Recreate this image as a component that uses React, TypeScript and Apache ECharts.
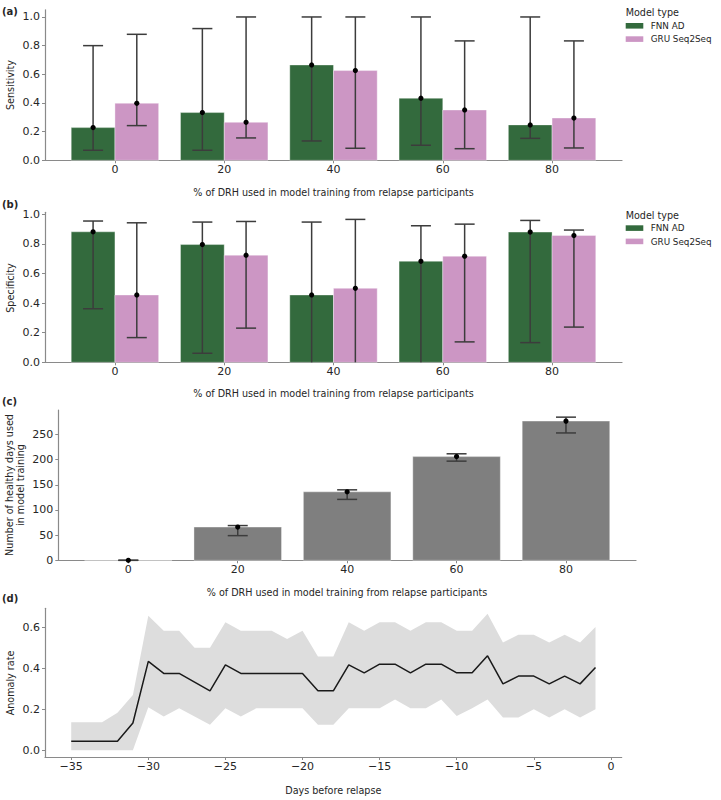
import React, { useEffect, useRef } from "react";
import * as echarts from "echarts";

// ---------- data ----------
const categories = ["0", "20", "40", "60", "80"];
const catIdx = [0, 1, 2, 3, 4];

// (a) Sensitivity
const sensFNN = [0.228, 0.333, 0.665, 0.433, 0.247];
const sensFNNLow = [0.07, 0.07, 0.135, 0.105, 0.153];
const sensFNNHigh = [0.8, 0.919, 1.0, 1.0, 1.0];
const sensGRU = [0.398, 0.265, 0.626, 0.351, 0.295];
const sensGRULow = [0.242, 0.156, 0.084, 0.081, 0.086];
const sensGRUHigh = [0.879, 1.0, 1.0, 0.833, 0.833];

// (b) Specificity
const specFNN = [0.882, 0.796, 0.455, 0.683, 0.88];
const specFNNLow = [0.362, 0.061, 0, 0, 0.133];
const specFNNHigh = [0.955, 0.948, 0.948, 0.923, 0.959];
const specGRU = [0.455, 0.724, 0.5, 0.717, 0.857];
const specGRULow = [0.167, 0.231, 0, 0.138, 0.238];
const specGRUHigh = [0.943, 0.952, 0.966, 0.934, 0.894];

// (c) Number of healthy days
const daysUsed = [0, 66, 136, 206, 276.5];
const daysUsedLow = [0, 49, 121, 197, 253];
const daysUsedHigh = [0, 69, 140, 211.6, 284.4];

// (d) Anomaly rate
const days = [-35, -34, -33, -32, -31, -30, -29, -28, -27, -26, -25, -24, -23, -22, -21, -20, -19, -18, -17, -16, -15, -14, -13, -12, -11, -10, -9, -8, -7, -6, -5, -4, -3, -2, -1];
const anomalyRate = [0.044, 0.044, 0.044, 0.044, 0.133, 0.434, 0.375, 0.375, 0.333, 0.29, 0.417, 0.375, 0.375, 0.375, 0.375, 0.375, 0.29, 0.29, 0.417, 0.378, 0.42, 0.42, 0.378, 0.42, 0.42, 0.378, 0.378, 0.461, 0.324, 0.362, 0.362, 0.324, 0.362, 0.324, 0.404];
const anomalyUpper = [0.137, 0.137, 0.137, 0.183, 0.27, 0.657, 0.584, 0.584, 0.5, 0.5, 0.625, 0.584, 0.584, 0.584, 0.543, 0.584, 0.458, 0.458, 0.625, 0.584, 0.625, 0.625, 0.584, 0.625, 0.625, 0.584, 0.584, 0.667, 0.526, 0.564, 0.564, 0.526, 0.564, 0.526, 0.602];
const anomalyLower = [0, 0, 0, 0, 0, 0.21, 0.165, 0.205, 0.165, 0.125, 0.205, 0.165, 0.205, 0.205, 0.205, 0.205, 0.125, 0.125, 0.205, 0.205, 0.205, 0.248, 0.205, 0.205, 0.248, 0.167, 0.205, 0.248, 0.16, 0.16, 0.2, 0.16, 0.2, 0.16, 0.2];

const ratioTicks = [0, 0.2, 0.4, 0.6, 0.8, 1.0];
const countTicks = [0, 50, 100, 150, 200, 250];
const anomalyTicks = [0, 0.2, 0.4, 0.6];
const dayTicks = [-35, -30, -25, -20, -15, -10, -5, 0];

// ---------- styles ----------
const FONT = "DejaVu Sans";
const TXT = "#262626";
const SPINE = "#8a8a8a";
const GREEN = "#336a3d";
const PINK = "#cc96c4";
const GRAY = "#7f7f7f";
const ERR = "#3c3c3c";
const BAND = "#dddddd";

const fmtMinus = (v: number) => (v < 0 ? "\u2212" + Math.abs(v) : String(v));

function xAxisCat(gridIndex: number) {
  return {
    gridIndex,
    type: "value",
    min: -0.64,
    max: 4.64,
    axisLine: { show: true, onZero: false, lineStyle: { color: SPINE, width: 1.2 } },
    axisTick: { show: true, customValues: catIdx, length: 3, lineStyle: { color: SPINE } },
    axisLabel: {
      customValues: catIdx,
      formatter: (v: number) => categories[Math.round(v)],
      color: TXT,
      fontSize: 11,
      fontFamily: FONT,
      margin: 4,
    },
    splitLine: { show: false },
  };
}

function yAxisVal(gridIndex: number, min: number, max: number, ticks: number[], fmt: (v: number) => string) {
  return {
    gridIndex,
    type: "value",
    min,
    max,
    axisLine: { show: true, onZero: false, lineStyle: { color: SPINE, width: 1.2 } },
    axisTick: { show: true, customValues: ticks, length: 3, lineStyle: { color: SPINE } },
    axisLabel: {
      customValues: ticks,
      formatter: fmt,
      color: TXT,
      fontSize: 11,
      fontFamily: FONT,
      margin: 5,
    },
    splitLine: { show: false },
  };
}

function barSeries(name: string, g: number, off: number, half: number, values: number[], color: string) {
  return {
    type: "custom",
    name,
    xAxisIndex: g,
    yAxisIndex: g,
    z: 2,
    data: values.map((v, i) => [i + off, v]),
    renderItem: (_p: any, api: any) => {
      const x = api.value(0);
      const v = api.value(1);
      const a = api.coord([x - half, v]);
      const b = api.coord([x + half, 0]);
      return {
        type: "rect",
        shape: { x: a[0], y: a[1], width: b[0] - a[0], height: b[1] - a[1] },
        style: { fill: color, stroke: "rgba(255,255,255,0.45)", lineWidth: 0.8 },
      };
    },
  };
}

function errSeries(name: string, g: number, off: number, center: number[], low: number[], high: number[]) {
  return {
    type: "custom",
    name,
    xAxisIndex: g,
    yAxisIndex: g,
    z: 5,
    data: center.map((c, i) => [i + off, c, low[i], high[i]]),
    renderItem: (_p: any, api: any) => {
      const x = api.value(0);
      const c = api.value(1);
      const lo = api.value(2);
      const hi = api.value(3);
      const pc = api.coord([x, c]);
      const pl = api.coord([x, lo]);
      const ph = api.coord([x, hi]);
      const st = { stroke: ERR, lineWidth: 1.5 };
      const children: any[] = [
        { type: "line", shape: { x1: pc[0], y1: pl[1], x2: pc[0], y2: ph[1] }, style: st },
        { type: "line", shape: { x1: pc[0] - 10, y1: ph[1], x2: pc[0] + 10, y2: ph[1] }, style: st },
      ];
      if (lo > 0 || hi === 0) {
        children.push({ type: "line", shape: { x1: pc[0] - 10, y1: pl[1], x2: pc[0] + 10, y2: pl[1] }, style: st });
      }
      children.push({ type: "circle", shape: { cx: pc[0], cy: pc[1], r: 2.6 }, style: { fill: "#000" } });
      return { type: "group", children };
    },
  };
}

function txt(text: string, x: number, y: number, opts: any = {}) {
  return {
    type: "text",
    x,
    y,
    rotation: opts.rotation || 0,
    silent: true,
    style: {
      text,
      fill: TXT,
      fontSize: opts.fontSize || 9.6,
      fontFamily: FONT,
      fontWeight: opts.fontWeight || "normal",
      textAlign: opts.align || "center",
      verticalAlign: "middle",
      lineHeight: opts.lineHeight,
    },
  };
}

function legend(top: number) {
  return [
    txt("Model type", 625.7, top, { align: "left", fontSize: 9.6 }),
    { type: "rect", shape: { x: 625.7, y: top + 10.3, width: 17.6, height: 5.6 }, style: { fill: GREEN } },
    txt("FNN AD", 650.7, top + 13.2, { align: "left", fontSize: 8.8 }),
    { type: "rect", shape: { x: 625.7, y: top + 23.6, width: 17.6, height: 5.6 }, style: { fill: PINK } },
    txt("GRU Seq2Seq", 650.7, top + 26.5, { align: "left", fontSize: 8.8 }),
  ];
}

const XTITLE = "% of DRH used in model training from relapse participants";

export default function App() {
  const ref = useRef<HTMLDivElement>(null);

  useEffect(() => {
    if (!ref.current) return;
    const chart = echarts.init(ref.current, undefined, { renderer: "svg" });

    const option: any = {
      animation: false,
      backgroundColor: "#ffffff",
      textStyle: { fontFamily: FONT },
      grid: [
        { left: 45, top: 9.8, width: 577, height: 150.5 },
        { left: 45, top: 212.3, width: 577, height: 150 },
        { left: 58.3, top: 410, width: 577.7, height: 150.3 },
        { left: 45, top: 608.3, width: 576.7, height: 148.7 },
      ],
      xAxis: [
        xAxisCat(0),
        xAxisCat(1),
        xAxisCat(2),
        {
          gridIndex: 3,
          type: "value",
          min: -36.7,
          max: 0.7,
          axisLine: { show: true, onZero: false, lineStyle: { color: SPINE, width: 1.2 } },
          axisTick: { show: true, customValues: dayTicks, length: 3, lineStyle: { color: SPINE } },
          axisLabel: { customValues: dayTicks, formatter: fmtMinus, color: TXT, fontSize: 11, fontFamily: FONT, margin: 4 },
          splitLine: { show: false },
        },
      ],
      yAxis: [
        yAxisVal(0, 0, 1.05, ratioTicks, (v) => v.toFixed(1)),
        yAxisVal(1, 0, 1.014, ratioTicks, (v) => v.toFixed(1)),
        yAxisVal(2, 0, 298.6, countTicks, (v) => String(v)),
        yAxisVal(3, -0.033, 0.693, anomalyTicks, (v) => v.toFixed(1)),
      ],
      series: [
        barSeries("FNN AD", 0, -0.2, 0.2, sensFNN, GREEN),
        barSeries("GRU Seq2Seq", 0, 0.2, 0.2, sensGRU, PINK),
        errSeries("FNN AD err", 0, -0.2, sensFNN, sensFNNLow, sensFNNHigh),
        errSeries("GRU Seq2Seq err", 0, 0.2, sensGRU, sensGRULow, sensGRUHigh),
        barSeries("FNN AD spec", 1, -0.2, 0.2, specFNN, GREEN),
        barSeries("GRU Seq2Seq spec", 1, 0.2, 0.2, specGRU, PINK),
        errSeries("FNN AD spec err", 1, -0.2, specFNN, specFNNLow, specFNNHigh),
        errSeries("GRU Seq2Seq spec err", 1, 0.2, specGRU, specGRULow, specGRUHigh),
        barSeries("Healthy days", 2, 0, 0.4, daysUsed, GRAY),
        errSeries("Healthy days err", 2, 0, daysUsed, daysUsedLow, daysUsedHigh),
        {
          type: "custom",
          name: "band",
          xAxisIndex: 3,
          yAxisIndex: 3,
          z: 1,
          data: days.map((d, i) => [d, anomalyUpper[i], anomalyLower[i]]),
          renderItem: (params: any, api: any) => {
            if (params.dataIndex !== 0) return { type: "group", children: [] };
            const pts: number[][] = [];
            for (let i = 0; i < days.length; i++) pts.push(api.coord([days[i], anomalyUpper[i]]));
            for (let i = days.length - 1; i >= 0; i--) pts.push(api.coord([days[i], anomalyLower[i]]));
            return { type: "polygon", shape: { points: pts }, style: { fill: BAND } };
          },
        },
        {
          type: "line",
          name: "Anomaly rate",
          xAxisIndex: 3,
          yAxisIndex: 3,
          z: 3,
          symbol: "none",
          data: days.map((d, i) => [d, anomalyRate[i]]),
          lineStyle: { color: "#1a1a1a", width: 1.5 },
        },
      ],
      graphic: [
        txt("(a)", 2, 11, { align: "left", fontSize: 10, fontWeight: "bold" }),
        txt("(b)", 2, 204.5, { align: "left", fontSize: 10, fontWeight: "bold" }),
        txt("(c)", 2, 401.7, { align: "left", fontSize: 10, fontWeight: "bold" }),
        txt("(d)", 2, 598, { align: "left", fontSize: 10, fontWeight: "bold" }),
        txt("Sensitivity", 10, 85, { rotation: Math.PI / 2 }),
        txt("Specificity", 10, 288, { rotation: Math.PI / 2 }),
        txt("Number of healthy days used\nin model training", 15.3, 485, { rotation: Math.PI / 2, lineHeight: 10.7 }),
        txt("Anomaly rate", 10, 683, { rotation: Math.PI / 2 }),
        txt(XTITLE, 333.5, 192.7),
        txt(XTITLE, 333.5, 393),
        txt(XTITLE, 347, 592.3),
        txt("Days before relapse", 333.3, 790),
        ...legend(12.7),
        ...legend(215),
      ],
    };

    chart.setOption(option);
    return () => chart.dispose();
  }, []);

  return (
    <div
      ref={ref}
      style={{ position: "fixed", left: 0, top: 0, width: 721, height: 800, background: "#fff" }}
    />
  );
}
